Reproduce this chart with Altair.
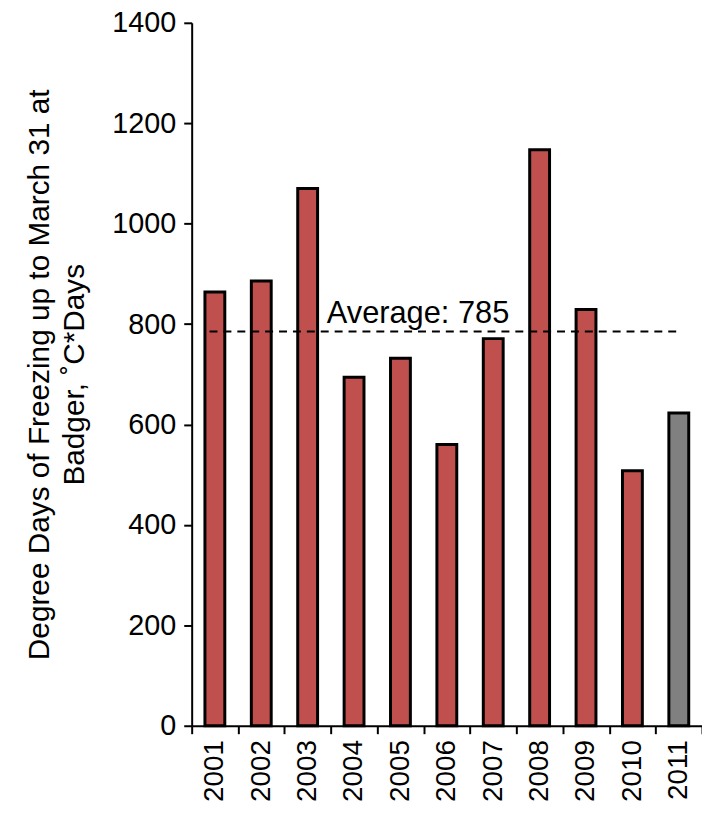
import altair as alt
import pandas as pd

years = ["2001", "2002", "2003", "2004", "2005", "2006", "2007", "2008", "2009", "2010", "2011"]
degree_days = [864, 886, 1070, 694, 732, 560, 771, 1147, 829, 508, 623]
bar_colors = ["#C0504D"] * 10 + ["#808080"]
average = 785

df = pd.DataFrame({"year": years, "dd": degree_days, "color": bar_colors})

bars = alt.Chart(df).mark_bar(stroke="black", strokeWidth=3, width=20).encode(
    x=alt.X("year:N", title=None, sort=years,
            scale=alt.Scale(paddingInner=0, paddingOuter=0),
            axis=alt.Axis(labelAngle=-90, labelFontSize=28, labelColor="black",
                          labelFont="Liberation Sans", labelPadding=6,
                          domainColor="black", domainWidth=2, tickColor="black",
                          tickWidth=2, tickSize=8, tickBand="extent")),
    y=alt.Y("dd:Q", scale=alt.Scale(domain=[0, 1400]),
            title=["Degree Days of Freezing up to March 31 at", "Badger, ˚C*Days"],
            axis=alt.Axis(values=list(range(0, 1401, 200)), format="d", grid=False,
                          labelFontSize=29, labelColor="black", labelFont="Liberation Sans",
                          titleFontSize=30, titleFont="Liberation Sans",
                          titleFontWeight="normal", titleColor="black", titlePadding=22,
                          titleLineHeight=36,
                          domainColor="black", domainWidth=2, tickColor="black",
                          tickWidth=2, tickSize=8, labelPadding=8)),
    color=alt.Color("color:N", scale=None),
)

avg_df = pd.DataFrame({"avg": [average], "label": [f"Average: {average}"]})
rule = alt.Chart(avg_df).mark_rule(color="black", strokeWidth=2, strokeDash=[8, 6]).encode(
    y="avg:Q", x=alt.value(18), x2=alt.value(492))
text = alt.Chart(avg_df).mark_text(fontSize=31, font="Liberation Sans", color="black",
                                   baseline="bottom", dy=-2).encode(
    y="avg:Q", x=alt.value(228), text="label:N")

chart = (bars + rule + text).properties(
    width=514, height=708,
    autosize=alt.AutoSizeParams(type="none"),
    padding={"left": 185, "top": 12, "right": 0, "bottom": 90},
).configure_view(stroke=None)

chart.save("out.html", embed_options={"renderer": "svg", "actions": False})
